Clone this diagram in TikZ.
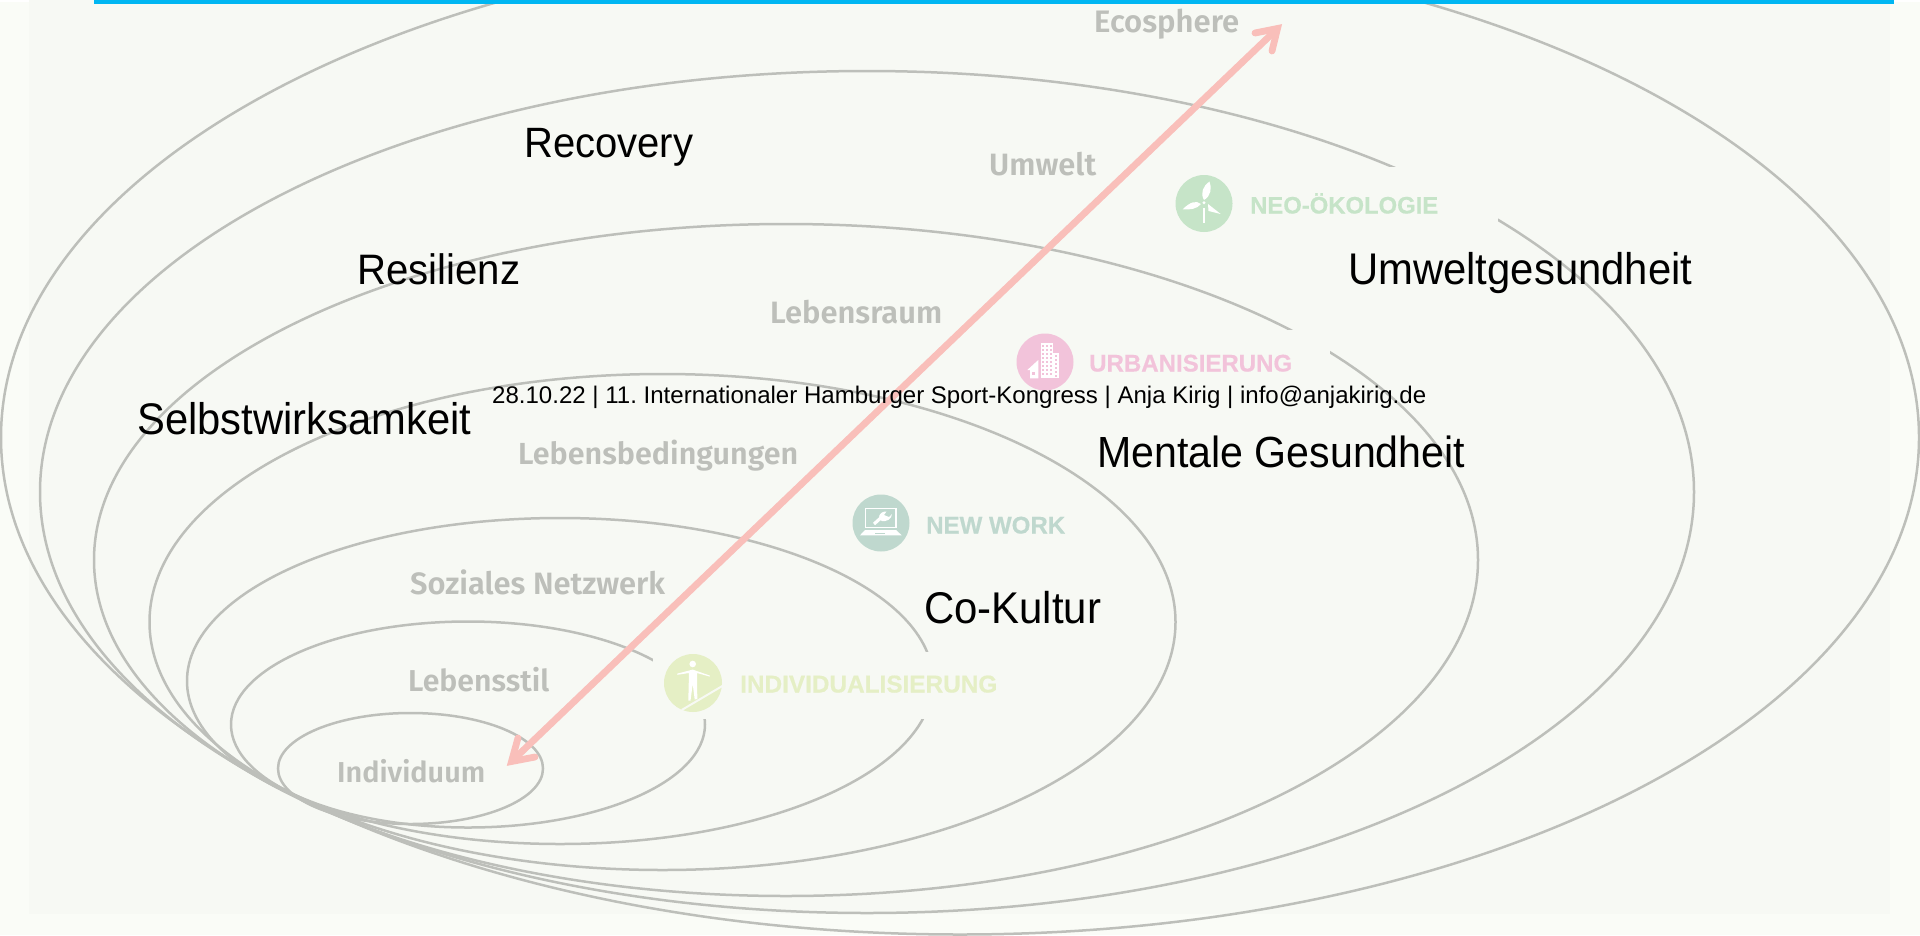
\documentclass[tikz,border=0pt]{standalone}
\usepackage{fontspec}
\usetikzlibrary{calc}
\setmainfont{Liberation Sans}
\newfontfamily\lightf{Liberation Sans}
\newfontfamily\medf[UprightFont=*-SemiBold]{Fira Sans}
\newfontfamily\trendf[UprightFont=* Bold,FakeBold=0.5]{Liberation Sans}
\definecolor{bgout}{HTML}{FAFCF7}
\definecolor{bgin}{HTML}{F7F9F4}
\definecolor{ringc}{HTML}{BDBFBA}
\definecolor{arrowc}{HTML}{F9BFBA}
\definecolor{barc}{HTML}{00B6F2}
\definecolor{neoc}{HTML}{C6E4C8}
\definecolor{urbc}{HTML}{F2C3DA}
\definecolor{workc}{HTML}{BFD8CE}
\definecolor{indc}{HTML}{E5EFC5}
\newcommand{\fitw}[2]{\resizebox{#1pt}{!}{\strut #2}}
\newcommand{\fitb}[2]{\scalebox{1}[1.06]{\fitw{#1}{#2}}}
\frenchspacing
\tikzset{
  ring/.style={draw=ringc,line width=2.5pt},
  cover/.style={fill=bgin,draw=none},
  bigl/.style={anchor=base west,inner sep=0pt,text=black,font=\lightf},
  greyl/.style={anchor=base west,inner sep=0pt,text=ringc,font=\medf},
  trendl/.style={anchor=base west,inner sep=0pt,font=\trendf},
  icon/.style={circle,minimum size=57pt,inner sep=0pt,draw=none},
  arrowline/.style={draw=arrowc,line width=6.8pt,line cap=round,line join=miter},
  ic/.style={fill=white,draw=none},
}
\begin{document}
\begin{tikzpicture}[x=1pt,y=-1pt]
\useasboundingbox (0,0) rectangle (1920,935);
\fill[bgout] (0,0) rectangle (1920,935);
\fill[white] (0,0) rectangle (29,2);
\fill[white] (1894,0) rectangle (1920,2);
\fill[bgin] (29,0) rectangle (1890,914);
\begin{scope}
\clip (0,0) rectangle (1920,935);
\draw[ring] (960,437.5) ellipse [x radius=959,y radius=497];
\draw[ring] (867,492) ellipse [x radius=827,y radius=421];
\draw[ring] (786,560) ellipse [x radius=692,y radius=336];
\draw[ring] (662.5,622) ellipse [x radius=513,y radius=248];
\draw[ring] (560,681) ellipse [x radius=373,y radius=163];
\draw[ring] (468,724.5) ellipse [x radius=237,y radius=103];
\draw[ring] (410.5,768.5) ellipse [x radius=132.5,y radius=55.5];
\end{scope}
\fill[cover] (1170,167) rectangle (1498,240);
\fill[cover] (1010,330) rectangle (1330,395);
\fill[cover] (653,652) rectangle (950,719);
\fill[barc] (94,0) rectangle (1894,3.5);

% arrow
\coordinate (tipA) at (1277.5,28.5);
\coordinate (tipB) at (511.5,761.5);
\draw[arrowline,line cap=butt] (tipB) -- (tipA);
\draw[arrowline] ($(tipA)+(-22.5,4.5)$) -- (tipA) -- ($(tipA)+(-5.5,22.5)$);
\draw[arrowline] ($(tipB)+(6.5,-23.5)$) -- (tipB) -- ($(tipB)+(23.5,-4.5)$);

% icons
\node[icon,fill=neoc] (neo) at (1204,203.5) {};
\node[icon,fill=urbc] (urb) at (1045,362) {};
\node[icon,fill=workc] (work) at (881,523) {};
\node[icon,fill=indc,minimum size=58pt] (ind) at (693,683) {};

% turbine
\fill[ic] (1204,202.7) circle (1.6);
\fill[ic] (1203,208) rectangle (1205,222.7);
\fill[ic] (1204,200) .. controls (1200,193) and (1203,186) .. (1209.5,181.5) .. controls (1212,188) and (1211,196) .. (1204,200) -- cycle;
\fill[ic] (1201,204) .. controls (1196,200) and (1190,202) .. (1182.7,209.3) .. controls (1190,210) and (1197,209) .. (1201,204) -- cycle;
\fill[ic] (1208,204) -- (1220.7,214) -- (1208.5,211) -- cycle;

% building
\fill[ic] (1041,342.7) rectangle (1052.7,378.3);
\fill[ic] (1052.7,352.7) rectangle (1058.7,378.3);
\fill[ic] (1027.3,370) -- (1038.3,360) -- (1038.3,378.3) -- (1030,378.3) -- (1030,370) -- cycle;
\foreach \cx in {1042.2,1045.9,1049.6}
  \foreach \cy in {345,349,353,357,361,365,369,373}
    \fill[urbc] (\cx,\cy) rectangle +(2,2.4);
\foreach \cy in {355,359,363,367,371,375}
  \fill[urbc] (1054.5,\cy) rectangle +(2.4,2.2);
\fill[urbc] (1032,372) rectangle +(2.5,2.5);

% laptop
\draw[white,line width=1.2pt] (865.5,508.8) rectangle (896,527.3);
\draw[white,line width=3.2pt] (874,524) -- (883.5,515.5);
\fill[ic] (879,519) .. controls (878,513) and (884,511) .. (886.5,511.5) -- (884,515) -- (889,517) -- (892,514) .. controls (892,519) and (886,522) .. (882,521) -- cycle;
\fill[ic] (865,530) -- (896,530) -- (901.7,535.3) -- (860,535.3) -- cycle;
\fill[workc] (875,532.6) rectangle (885,533.8);

% person
\fill[ic] (692.7,664) circle (3.3);
\fill[ic] (677.3,673.6) -- (692.7,669.6) -- (710,675.6) -- (709.7,676.6) -- (697,673) -- (697.3,699) -- (694.7,699.5) -- (692.7,684) -- (690.5,700.7) -- (688.3,700.7) -- (689,673) -- (677.5,674.8) -- cycle;
\draw[draw=bgin,line width=2pt] (681.7,710) -- (722.3,686);

% texts
\node[bigl] (recovery) at (524,157) {\fitb{169}{Recovery}};
\node[bigl] (resil) at (357,284) {\fitb{163}{Resilienz}};
\node[bigl] (selbst) at (137,434) {\fitb{334}{Selbstwirksamkeit}};
\node[bigl] (umg) at (1348,284) {\fitb{344}{Umweltgesundheit}};
\node[bigl] (mg) at (1097,467) {\fitb{368}{Mentale Gesundheit}};
\node[bigl] (ck) at (924,623) {\fitb{177}{Co-Kultur}};

\node[greyl] (eco) at (1094,32) {\fitw{145}{Ecosphere}};
\node[greyl] (umw) at (989,175) {\fitw{107}{Umwelt}};
\node[greyl] (lr) at (770,323) {\fitw{172}{Lebensraum}};
\node[greyl] (lb) at (518,464) {\fitw{280}{Lebensbedingungen}};
\node[greyl] (sn) at (410,594) {\fitw{255}{Soziales Netzwerk}};
\node[greyl] (ls) at (408,691) {\fitw{141}{Lebensstil}};
\node[greyl] (iv) at (337,782) {\fitw{148}{Individuum}};

\node[trendl,text=neoc] (neot) at (1250,213.5) {\fitw{188}{NEO-ÖKOLOGIE}};
\node[trendl,text=urbc] (urbt) at (1089,371.5) {\fitw{203}{URBANISIERUNG}};
\node[trendl,text=workc] (workt) at (926,533.5) {\fitw{139}{NEW WORK}};
\node[trendl,text=indc] (indt) at (740,692.5) {\fitw{257}{INDIVIDUALISIERUNG}};

\node[anchor=base west,inner sep=0pt,text=black] (foot) at (492,403) {\fitw{934}{28.10.22 | 11. Internationaler Hamburger Sport-Kongress | Anja Kirig | info@anjakirig.de}};
\end{tikzpicture}
\end{document}
